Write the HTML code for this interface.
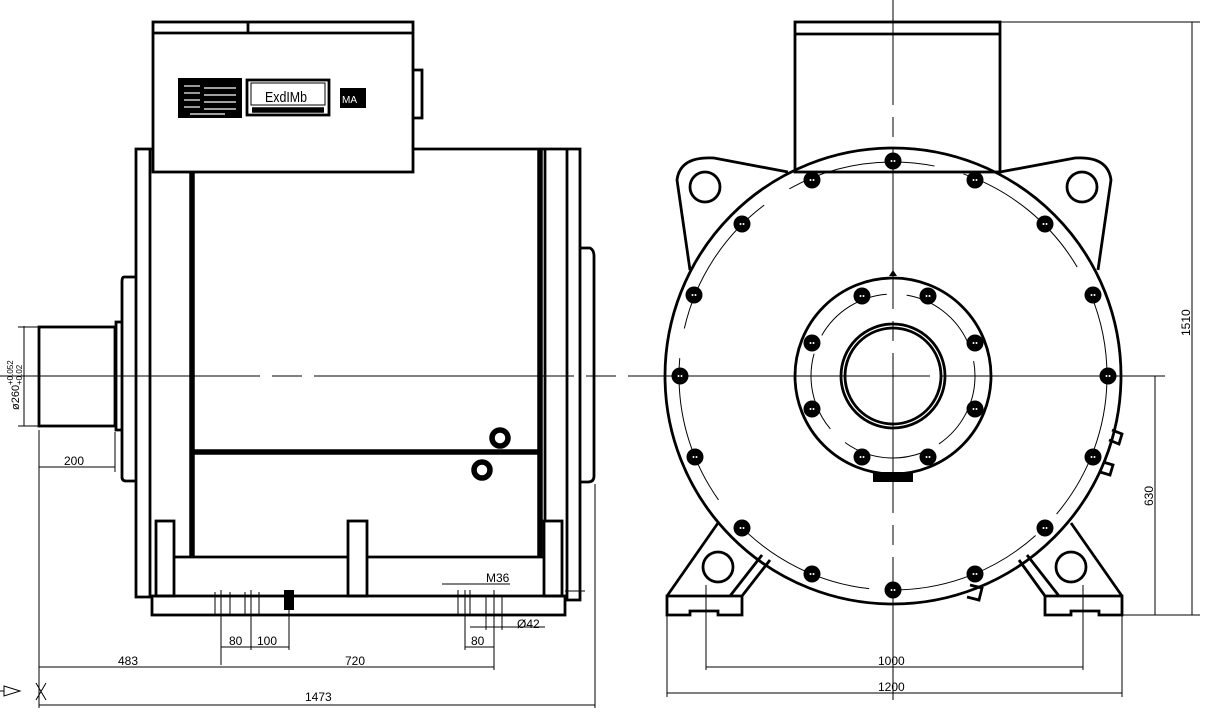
<!DOCTYPE html>
<html><head><meta charset="utf-8"><style>
html,body{margin:0;padding:0;background:#fff;}
svg{display:block;}
text{font-family:"Liberation Sans",sans-serif;fill:#000;}
.t{stroke:#000;stroke-width:1;fill:none;}
.m{stroke:#000;stroke-width:2.8;fill:none;}
.k{stroke:#000;stroke-width:5.5;fill:none;}
</style></head><body>
<svg width="1224" height="713" viewBox="0 0 1224 713" xmlns="http://www.w3.org/2000/svg">
<defs>
<g id="b"><circle r="8.5" fill="#000"/><circle cx="-1.5" cy="0" r="1" fill="#fff"/><circle cx="1.5" cy="0" r="1" fill="#fff"/></g>
</defs>
<!-- centerlines -->
<line class="t" x1="0" y1="376" x2="1160" y2="376" stroke-dasharray="260,12,30,12"/>
<line class="t" x1="893" y1="0" x2="893" y2="700" stroke-dasharray="105,12,20,12,160,12,20,12,160,12,20,12,200"/>

<!-- LEFT VIEW -->
<rect class="m" x="153" y="22" width="260" height="150"/>
<line class="m" x1="153" y1="33" x2="413" y2="33"/>
<line class="m" x1="248" y1="22" x2="248" y2="33"/>
<path class="m" d="M413 70 H422 V118 H413"/>
<rect x="178" y="78" width="64" height="40" fill="#000"/>
<g stroke="#fff" stroke-width="1.2">
<line x1="184" y1="86" x2="200" y2="86"/><line x1="184" y1="93" x2="200" y2="93"/><line x1="184" y1="100" x2="200" y2="100"/><line x1="184" y1="107" x2="200" y2="107"/>
<line x1="204" y1="88" x2="236" y2="88"/><line x1="204" y1="95" x2="236" y2="95"/><line x1="204" y1="102" x2="236" y2="102"/><line x1="204" y1="109" x2="236" y2="109"/><line x1="190" y1="114" x2="225" y2="114"/>
</g>
<rect class="m" x="247" y="80" width="82" height="35"/>
<rect class="t" x="251" y="83" width="74" height="22"/>
<line class="k" x1="252" y1="110" x2="324" y2="110" stroke-width="3"/>
<text x="265" y="102" font-size="15" font-family="Liberation Serif" textLength="42" lengthAdjust="spacingAndGlyphs">ExdIMb</text>
<rect x="340" y="88" width="26" height="20" fill="#000"/>
<text x="342" y="103" font-size="10" style="fill:#fff">MA</text>

<!-- body frame -->
<path class="m" d="M153 149 H136 V597 H152"/>
<line class="m" x1="150" y1="149" x2="150" y2="597"/>
<line class="k" x1="192" y1="172" x2="192" y2="557"/>
<line class="k" x1="540" y1="149" x2="540" y2="557"/>
<path class="m" d="M413 149 H580 V600 H565"/>
<line class="m" x1="545" y1="149" x2="545" y2="522"/>
<line class="m" x1="567" y1="149" x2="567" y2="600"/>
<line class="k" x1="192" y1="452" x2="540" y2="452"/>
<!-- left flange & shaft -->
<path class="m" d="M136 277 H124 Q122 277 122 282 V477 Q122 481 126 481 H136"/>
<path class="m" d="M122 322 H116 V430 H122"/>
<rect class="m" x="39" y="327" width="76" height="99"/>
<!-- right flange -->
<path class="m" d="M580 248 H590 Q594 250 594 256 V476 Q594 482 588 482 H580"/>
<!-- lifting eyes -->
<circle cx="500" cy="438" r="8" class="k" stroke-width="3"/>
<circle cx="482" cy="470" r="8" class="k" stroke-width="3"/>
<!-- base & feet -->
<rect class="m" x="152" y="596" width="413" height="19"/>
<rect class="m" x="156" y="521" width="18" height="75"/>
<rect class="m" x="348" y="521" width="19" height="75"/>
<rect class="m" x="544" y="521" width="18" height="75"/>
<line class="m" x1="174" y1="557" x2="348" y2="557"/>
<line class="m" x1="367" y1="557" x2="544" y2="557"/>
<rect x="284" y="590" width="10" height="20" fill="#000"/>
<line class="t" x1="289" y1="590" x2="289" y2="650"/>
<!-- bolt lines -->
<g class="t">
<line x1="215" y1="592" x2="215" y2="615"/><line x1="221" y1="590" x2="221" y2="665"/><line x1="230" y1="592" x2="230" y2="615"/>
<line x1="245" y1="592" x2="245" y2="615"/><line x1="251" y1="590" x2="251" y2="650"/><line x1="259" y1="592" x2="259" y2="615"/>
<line x1="458" y1="590" x2="458" y2="615"/><line x1="465" y1="590" x2="465" y2="650"/><line x1="470" y1="590" x2="470" y2="615"/>
<line x1="486" y1="596" x2="486" y2="630"/><line x1="494" y1="590" x2="494" y2="670"/><line x1="502" y1="596" x2="502" y2="630"/>
<line x1="565" y1="591" x2="585" y2="591"/>
</g>
<!-- left dims -->
<g class="t">
<line x1="39" y1="430" x2="39" y2="708"/>
<line x1="595" y1="484" x2="595" y2="708"/>
<line x1="115" y1="432" x2="115" y2="472"/>
<line x1="39" y1="467" x2="115" y2="467"/>
<line x1="39" y1="667" x2="494" y2="667"/>
<line x1="39" y1="705" x2="595" y2="705"/>
<line x1="221" y1="647" x2="289" y2="647"/>
<line x1="465" y1="647" x2="494" y2="647"/>
<line x1="470" y1="627" x2="545" y2="627"/>
<line x1="442" y1="584" x2="510" y2="584"/>
<line x1="24" y1="326" x2="24" y2="426"/>
<line x1="18" y1="327" x2="39" y2="327"/><line x1="18" y1="426" x2="39" y2="426"/>
</g>
<g font-size="12">
<text x="64" y="465">200</text>
<text x="118" y="665">483</text>
<text x="345" y="665">720</text>
<text x="305" y="701">1473</text>
<text x="229" y="645">80</text>
<text x="257" y="645">100</text>
<text x="471" y="645">80</text>
<text x="486" y="582" font-family="Liberation Serif">M36</text>
<text x="517" y="628">Ø42</text>
<text transform="translate(19,410) rotate(-90)" font-size="11">ø260</text>
<text transform="translate(13,385) rotate(-90)" font-size="8">+0.052</text>
<text transform="translate(22,385) rotate(-90)" font-size="8">+0.02</text>
</g>
<path class="t" d="M4 686 L20 691 L4 696 Z M0 691 H4"/>
<path class="t" d="M36 683 L46 700 M46 683 L36 700"/>

<!-- RIGHT VIEW -->
<rect class="m" x="795" y="22" width="205" height="150"/>
<line class="m" x1="795" y1="34" x2="1000" y2="34"/>
<!-- ears -->
<path class="m" d="M788 172 L714 158 Q680 156 677 180 L690 270"/>
<circle cx="705" cy="187" r="15" class="m"/>
<path class="m" d="M1000 172 L1075 158 Q1108 156 1111 180 L1098 270"/>
<circle cx="1082" cy="187" r="15" class="m"/>
<!-- feet -->
<path class="m" d="M667 596 L718 523 M667 596 V615 H690 V611 H718 V615 H742 V596 Z M730 596 L762 555 M742 596 L770 560"/>
<circle cx="718" cy="567" r="15" class="m"/>
<path class="m" d="M1122 596 L1071 523 M1122 596 V615 H1099 V611 H1071 V615 H1045 V596 Z M1059 596 L1027 555 M1045 596 L1019 560"/>
<circle cx="1071" cy="567" r="15" class="m"/>
<!-- main circle -->
<circle cx="893" cy="376" r="228" fill="#fff" class="m" stroke-width="3"/>
<circle cx="893" cy="376" r="214" class="t" stroke-dasharray="150,30"/>
<circle cx="893" cy="376" r="98" class="m" stroke-width="3"/>
<circle cx="893" cy="376" r="82" class="t" stroke-dasharray="80,20"/>
<circle cx="893" cy="376" r="52" class="m" stroke-width="3"/>
<circle cx="893" cy="376" r="48" class="m" stroke-width="1.8"/>
<rect x="873" y="472" width="40" height="10" fill="#000"/>
<path d="M893 270 L889 276 H897 Z" fill="#000"/>
<path class="m" d="M1112 430 l10 4 -3 10 -10 -4 M1103 462 l10 3 -3 10 -10 -3 M970 585 l12 3 -3 12 -12 -3"/>
<line class="t" x1="880" y1="376" x2="906" y2="376"/>
<g>
<use href="#b" x="893" y="161"/><use href="#b" x="812" y="180"/><use href="#b" x="975" y="180"/>
<use href="#b" x="742" y="224"/><use href="#b" x="1045" y="224"/><use href="#b" x="694" y="295"/>
<use href="#b" x="1093" y="295"/><use href="#b" x="680" y="376"/><use href="#b" x="1108" y="376"/>
<use href="#b" x="695" y="457"/><use href="#b" x="1093" y="457"/><use href="#b" x="742" y="528"/>
<use href="#b" x="1045" y="528"/><use href="#b" x="812" y="574"/><use href="#b" x="975" y="574"/>
<use href="#b" x="893" y="590"/>
<use href="#b" x="862" y="296"/><use href="#b" x="928" y="296"/><use href="#b" x="812" y="343"/>
<use href="#b" x="975" y="343"/><use href="#b" x="812" y="409"/><use href="#b" x="975" y="409"/>
<use href="#b" x="862" y="457"/><use href="#b" x="928" y="457"/>
</g>
<!-- right dims -->
<g class="t">
<line x1="1000" y1="22" x2="1200" y2="22"/>
<line x1="1122" y1="615" x2="1200" y2="615"/>
<line x1="1121" y1="376" x2="1165" y2="376"/>
<line x1="1192" y1="22" x2="1192" y2="615"/>
<line x1="1155" y1="376" x2="1155" y2="615"/>
<line x1="706" y1="585" x2="706" y2="670"/>
<line x1="1083" y1="585" x2="1083" y2="670"/>
<line x1="667" y1="615" x2="667" y2="697"/>
<line x1="1122" y1="615" x2="1122" y2="697"/>
<line x1="706" y1="667" x2="1083" y2="667"/>
<line x1="667" y1="693" x2="1122" y2="693"/>
</g>
<g font-size="12">
<text x="878" y="665">1000</text>
<text x="878" y="691">1200</text>
<text transform="translate(1190,336) rotate(-90)">1510</text>
<text transform="translate(1153,506) rotate(-90)">630</text>
</g>
</svg>
</body></html>
